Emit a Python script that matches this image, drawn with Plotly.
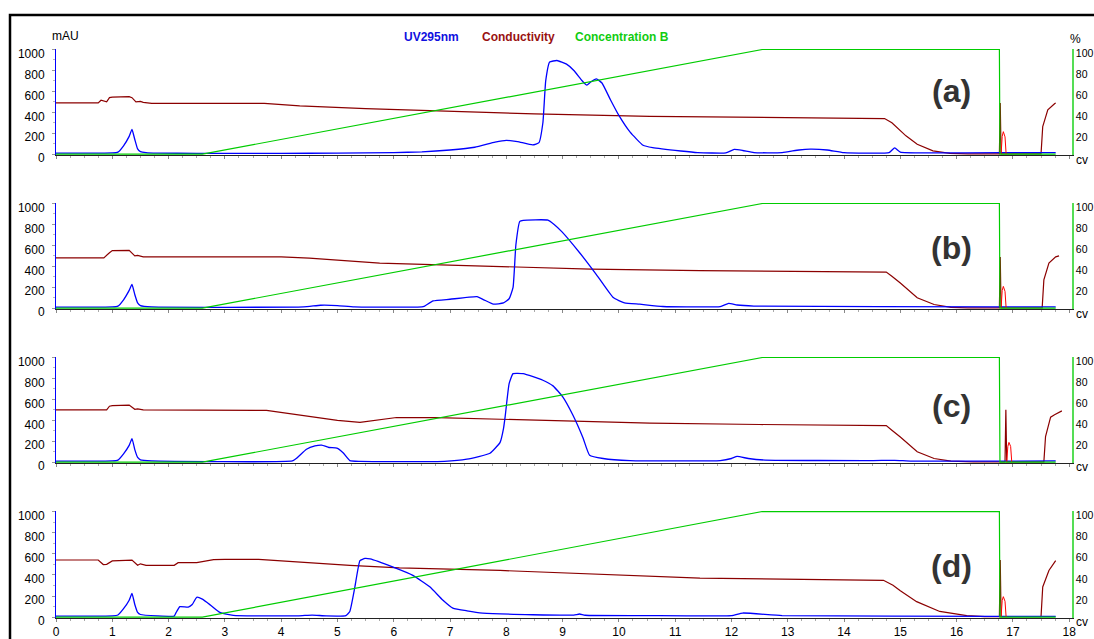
import plotly.graph_objects as go

W, H = 1094, 639

# ---------------- data ----------------
# Panel (a)
uv_a_x = [0, 0.5, 1.0, 1.1, 1.2, 1.3, 1.35, 1.4, 1.45, 1.5, 1.6, 1.8, 2.5, 4.0, 5.0, 6.0, 6.5, 7.0, 7.44, 7.8, 8.0, 8.2, 8.47, 8.58, 8.65, 8.7, 8.77, 8.9, 9.07, 9.2, 9.35, 9.43, 9.5, 9.6, 9.7, 9.85, 10.0, 10.2, 10.43, 10.6, 11.1, 11.4, 11.9, 12.05, 12.2, 12.4, 12.9, 13.2, 13.4, 13.7, 14.0, 14.8, 14.9, 15.0, 15.5, 16.8, 17.76]
uv_a_y = [10, 10, 12, 20, 80, 170, 236, 140, 50, 25, 15, 10, 8, 8, 10, 15, 22, 40, 66, 115, 132, 120, 88, 110, 300, 700, 880, 895, 860, 800, 700, 660, 690, 720, 680, 520, 370, 210, 85, 62, 30, 15, 12, 45, 35, 15, 15, 40, 48, 40, 15, 15, 60, 20, 12, 15, 15]
cond_a_x = [0, 0.75, 0.8, 0.85, 0.9, 0.95, 1.0, 1.3, 1.35, 1.42, 1.5, 1.55, 1.7, 3.7, 4.33, 5.5, 7.0, 8.5, 10.55, 12.5, 14.72, 14.85, 14.94, 15.1, 15.3, 15.58, 15.88, 16.2, 16.76, 16.775, 16.79, 17.5, 17.53, 17.62, 17.74, 17.76]
cond_a_y = [490, 490, 515, 505, 500, 540, 545, 550, 540, 500, 505, 495, 485, 485, 462, 435, 409, 385, 362, 350, 340, 300, 255, 175, 94, 31, 8, 3, 3, 490, 3, 3, 264, 424, 481, 490]
pk_a_x = [16.79, 16.81, 16.83, 16.86, 16.88]
pk_a_y = [0, 170, 215, 165, 0]

# Panel (b)
uv_b_x = [0, 1.0, 1.1, 1.2, 1.3, 1.35, 1.4, 1.45, 1.5, 1.7, 4.4, 4.7, 5.0, 5.3, 6.5, 6.55, 6.7, 7.0, 7.48, 7.6, 7.77, 7.95, 8.05, 8.12, 8.17, 8.24, 8.3, 8.74, 8.85, 8.99, 9.31, 9.6, 9.9, 10.1, 10.37, 10.78, 11.8, 11.95, 12.1, 12.4, 16.8, 17.76]
uv_b_y = [10, 12, 20, 80, 170, 226, 130, 50, 25, 12, 12, 28, 25, 12, 12, 20, 69, 85, 110, 80, 38, 50, 90, 198, 604, 830, 840, 842, 800, 729, 525, 321, 101, 50, 38, 16, 15, 45, 30, 20, 12, 12]
cond_b_x = [0, 0.85, 0.95, 1.0, 1.3, 1.4, 1.45, 1.55, 4.0, 4.5, 5.75, 7.0, 8.12, 9.5, 11.44, 13.0, 14.75, 14.85, 15.0, 15.3, 15.6, 15.9, 16.2, 16.76, 16.775, 16.79, 17.52, 17.55, 17.64, 17.76, 17.82]
cond_b_y = [481, 481, 530, 550, 553, 500, 505, 490, 490, 478, 431, 410, 390, 373, 358, 350, 345, 305, 240, 100, 35, 8, 3, 3, 490, 3, 3, 270, 430, 490, 500]
pk_b_x = [16.79, 16.81, 16.83, 16.86, 16.88]
pk_b_y = [0, 170, 208, 160, 0]

# Panel (c)
uv_c_x = [0, 1.0, 1.1, 1.2, 1.3, 1.35, 1.4, 1.45, 1.5, 1.7, 4.2, 4.28, 4.45, 4.6, 4.72, 4.85, 4.99, 5.1, 5.22, 5.4, 6.9, 7.3, 7.71, 7.89, 7.95, 7.98, 8.05, 8.12, 8.3, 8.65, 8.83, 9.0, 9.18, 9.36, 9.48, 9.72, 10.2, 11.8, 12.0, 12.1, 12.3, 12.6, 14.5, 14.9, 15.2, 16.8, 17.76]
uv_c_y = [10, 12, 20, 80, 160, 225, 120, 45, 22, 12, 12, 40, 123, 155, 163, 140, 135, 90, 15, 8, 8, 28, 85, 189, 320, 437, 750, 846, 846, 783, 729, 626, 453, 236, 66, 35, 15, 15, 35, 55, 35, 20, 15, 18, 10, 10, 12]
cond_c_x = [0, 0.9, 0.95, 1.0, 1.3, 1.4, 1.45, 1.55, 3.74, 4.33, 5.0, 5.4, 5.7, 6.05, 6.77, 8.19, 10.55, 12.5, 14.75, 14.85, 15.0, 15.3, 15.6, 15.9, 16.3, 16.86, 16.875, 16.89, 17.55, 17.58, 17.67, 17.74, 17.87]
cond_c_y = [500, 500, 535, 540, 545, 505, 510, 500, 494, 453, 400, 380, 405, 427, 425, 406, 374, 360, 350, 305, 240, 100, 35, 10, 3, 3, 500, 3, 3, 245, 430, 453, 490]
pk_c_x = [16.89, 16.91, 16.93, 16.96, 16.98]
pk_c_y = [0, 150, 189, 150, 0]

# Panel (d)
uv_d_x = [0, 1.0, 1.1, 1.2, 1.3, 1.35, 1.4, 1.45, 1.5, 1.8, 2.1, 2.13, 2.2, 2.35, 2.42, 2.5, 2.6, 2.74, 2.91, 3.15, 4.3, 4.55, 4.8, 5.15, 5.22, 5.31, 5.4, 5.49, 5.58, 5.99, 6.34, 6.64, 6.87, 7.05, 7.3, 7.58, 8.47, 9.2, 9.3, 9.4, 10.5, 12.0, 12.2, 12.9, 16.8, 17.76]
uv_d_y = [10, 12, 20, 80, 160, 225, 120, 45, 25, 12, 10, 40, 100, 95, 120, 188, 170, 116, 45, 17, 12, 20, 12, 15, 54, 286, 535, 556, 551, 473, 395, 287, 163, 86, 60, 39, 23, 20, 30, 18, 15, 15, 39, 15, 8, 8]
cond_d_x = [0, 0.75, 0.84, 0.9, 1.0, 1.35, 1.45, 1.5, 1.6, 2.1, 2.17, 2.5, 2.8, 3.0, 3.6, 4.1, 4.33, 5.22, 6.1, 7.89, 11.44, 14.7, 14.87, 15.0, 15.29, 15.7, 16.18, 16.5, 16.76, 16.775, 16.79, 17.5, 17.53, 17.64, 17.76]
cond_d_y = [541, 541, 498, 500, 532, 540, 491, 505, 491, 491, 516, 516, 544, 547, 547, 528, 519, 491, 467, 442, 370, 349, 302, 250, 147, 54, 14, 5, 5, 541, 5, 5, 286, 442, 535]
pk_d_x = [16.79, 16.81, 16.83, 16.86, 16.88]
pk_d_y = [0, 160, 194, 150, 0]

# Concentration B (%) – identical programme in every run
conc_x = [0, 2.6, 12.55, 16.76, 16.77, 17.76]
conc_y = [0, 0, 100, 100, 0, 0]

panels = [
    ("(a)", uv_a_x, uv_a_y, cond_a_x, cond_a_y, pk_a_x, pk_a_y),
    ("(b)", uv_b_x, uv_b_y, cond_b_x, cond_b_y, pk_b_x, pk_b_y),
    ("(c)", uv_c_x, uv_c_y, cond_c_x, cond_c_y, pk_c_x, pk_c_y),
    ("(d)", uv_d_x, uv_d_y, cond_d_x, cond_d_y, pk_d_x, pk_d_y),
]

y_ticks_left = [0, 200, 400, 600, 800, 1000]
y_ticks_right = [20, 40, 60, 80, 100]
x_ticks = list(range(0, 19))

# ---------------- styling ----------------
C_UV = "#0000FF"
C_COND = "#8B0000"
C_CONC = "#00CC00"
C_PK = "#FF0000"
FONT = "Liberation Sans, Arial, sans-serif"

# pixel positions of each panel (top = 1000 mAU, bottom = 0)
panel_px = [(49, 155), (203, 309), (357, 463), (511, 618)]
x_dom = [56 / W, 1072 / W]
XR = [0, 18.05]
YR = [-8, 1005]
YR2 = [-0.8, 100.5]

fig = go.Figure()
layout = dict(
    width=W, height=H, margin=dict(l=0, r=0, t=0, b=0, pad=0), autosize=False,
    paper_bgcolor="white", plot_bgcolor="white", showlegend=False,
    font=dict(family=FONT, size=12, color="black"),
)

annotations = []
for i, (lab, ux, uy, cx, cy, px_, py_) in enumerate(panels):
    n = i + 1
    xa = "x" if n == 1 else f"x{n}"
    ya = "y" if n == 1 else f"y{n}"
    ya2 = f"y{n + 4}"
    top, bot = panel_px[i]
    dom = [1 - bot / H, 1 - top / H]

    layout["xaxis" if n == 1 else f"xaxis{n}"] = dict(
        domain=x_dom, range=XR, anchor=ya, showgrid=False, zeroline=False,
        automargin=False,
        showline=True, linecolor="#222", linewidth=1,
        tickvals=x_ticks, ticks="outside", ticklen=3, tickcolor="#888",
        minor=dict(dtick=0.25, ticks="outside", ticklen=2, tickcolor="#aaa"),
        showticklabels=(n == 4), tickfont=dict(size=12, family=FONT),
    )
    layout["yaxis" if n == 1 else f"yaxis{n}"] = dict(
        domain=dom, range=YR, anchor=xa, showgrid=False, zeroline=False,
        automargin=False,
        showline=True, linecolor=C_UV, linewidth=1,
        tickvals=y_ticks_left, ticks="outside", ticklen=3, tickcolor="#999",
        minor=dict(dtick=100, ticks="outside", ticklen=2, tickcolor="#bbb"),
        tickfont=dict(size=12, family=FONT), ticklabelshift=4, ticklabelstandoff=5,
    )
    layout[f"yaxis{n + 4}"] = dict(
        overlaying=ya, anchor=xa, side="right", range=YR2,
        automargin=False,
        showgrid=False, zeroline=False, showline=True, linecolor="#55DD55",
        linewidth=1.5, tickvals=y_ticks_right, ticks="",
        tickfont=dict(size=10.5, family=FONT), ticklabelshift=4,
        ticklabelstandoff=0,
    )

    fig.add_trace(go.Scatter(x=cx, y=cy, mode="lines", xaxis=xa, yaxis=ya,
                             line=dict(color=C_COND, width=1.2), name="Conductivity"))
    fig.add_trace(go.Scatter(x=conc_x, y=conc_y, mode="lines", xaxis=xa, yaxis=ya2,
                             line=dict(color=C_CONC, width=1.2), name="Concentration B"))
    fig.add_trace(go.Scatter(x=ux, y=uy, mode="lines", xaxis=xa, yaxis=ya,
                             line=dict(color=C_UV, width=1.3, shape="spline", smoothing=0.4),
                             name="UV295nm"))
    fig.add_trace(go.Scatter(x=px_, y=py_, mode="lines", xaxis=xa, yaxis=ya,
                             line=dict(color=C_PK, width=1.0), name="peak"))

    lab_y = [91, 248, 406, 566][i]
    annotations.append(dict(text=f"<b>{lab}</b>", xref="paper", yref="paper",
                            x=951 / W, y=1 - lab_y / H, xanchor="center", yanchor="middle",
                            showarrow=False, font=dict(size=32, color="#333333", family=FONT)))
    cv_y = [160, 314, 467, 622][i]
    annotations.append(dict(text="cv", xref="paper", yref="paper",
                            x=1074 / W, y=1 - cv_y / H, xanchor="left", yanchor="middle",
                            showarrow=False, font=dict(size=12, family=FONT)))

annotations += [
    dict(text="mAU", xref="paper", yref="paper", x=50 / W, y=1 - 36 / H,
         xanchor="left", yanchor="middle", showarrow=False, font=dict(size=12, family=FONT)),
    dict(text="%", xref="paper", yref="paper", x=1068 / W, y=1 - 39 / H,
         xanchor="left", yanchor="middle", showarrow=False, font=dict(size=12, family=FONT)),
    dict(text="<b>UV295nm</b>", xref="paper", yref="paper", x=431 / W, y=1 - 37 / H,
         xanchor="center", yanchor="middle", showarrow=False, font=dict(size=12, color="#1010E0", family=FONT)),
    dict(text="<b>Conductivity</b>", xref="paper", yref="paper", x=518 / W, y=1 - 37 / H,
         xanchor="center", yanchor="middle", showarrow=False, font=dict(size=12, color="#991111", family=FONT)),
    dict(text="<b>Concentration B</b>", xref="paper", yref="paper", x=622 / W, y=1 - 37 / H,
         xanchor="center", yanchor="middle", showarrow=False, font=dict(size=12, color="#11CC11", family=FONT)),
]
layout["annotations"] = annotations
layout["shapes"] = [dict(type="rect", xref="paper", yref="paper",
                         x0=10 / W, x1=1.02, y0=-0.05, y1=1 - 15 / H,
                         line=dict(color="black", width=2.5), fillcolor="rgba(0,0,0,0)")]

fig.update_layout(**layout)
fig.write_html(
    "out.html",
    config={"displayModeBar": False},
    post_script="document.body.style.margin='0';document.body.style.overflow='hidden';"
                "document.documentElement.style.overflow='hidden';",
)
